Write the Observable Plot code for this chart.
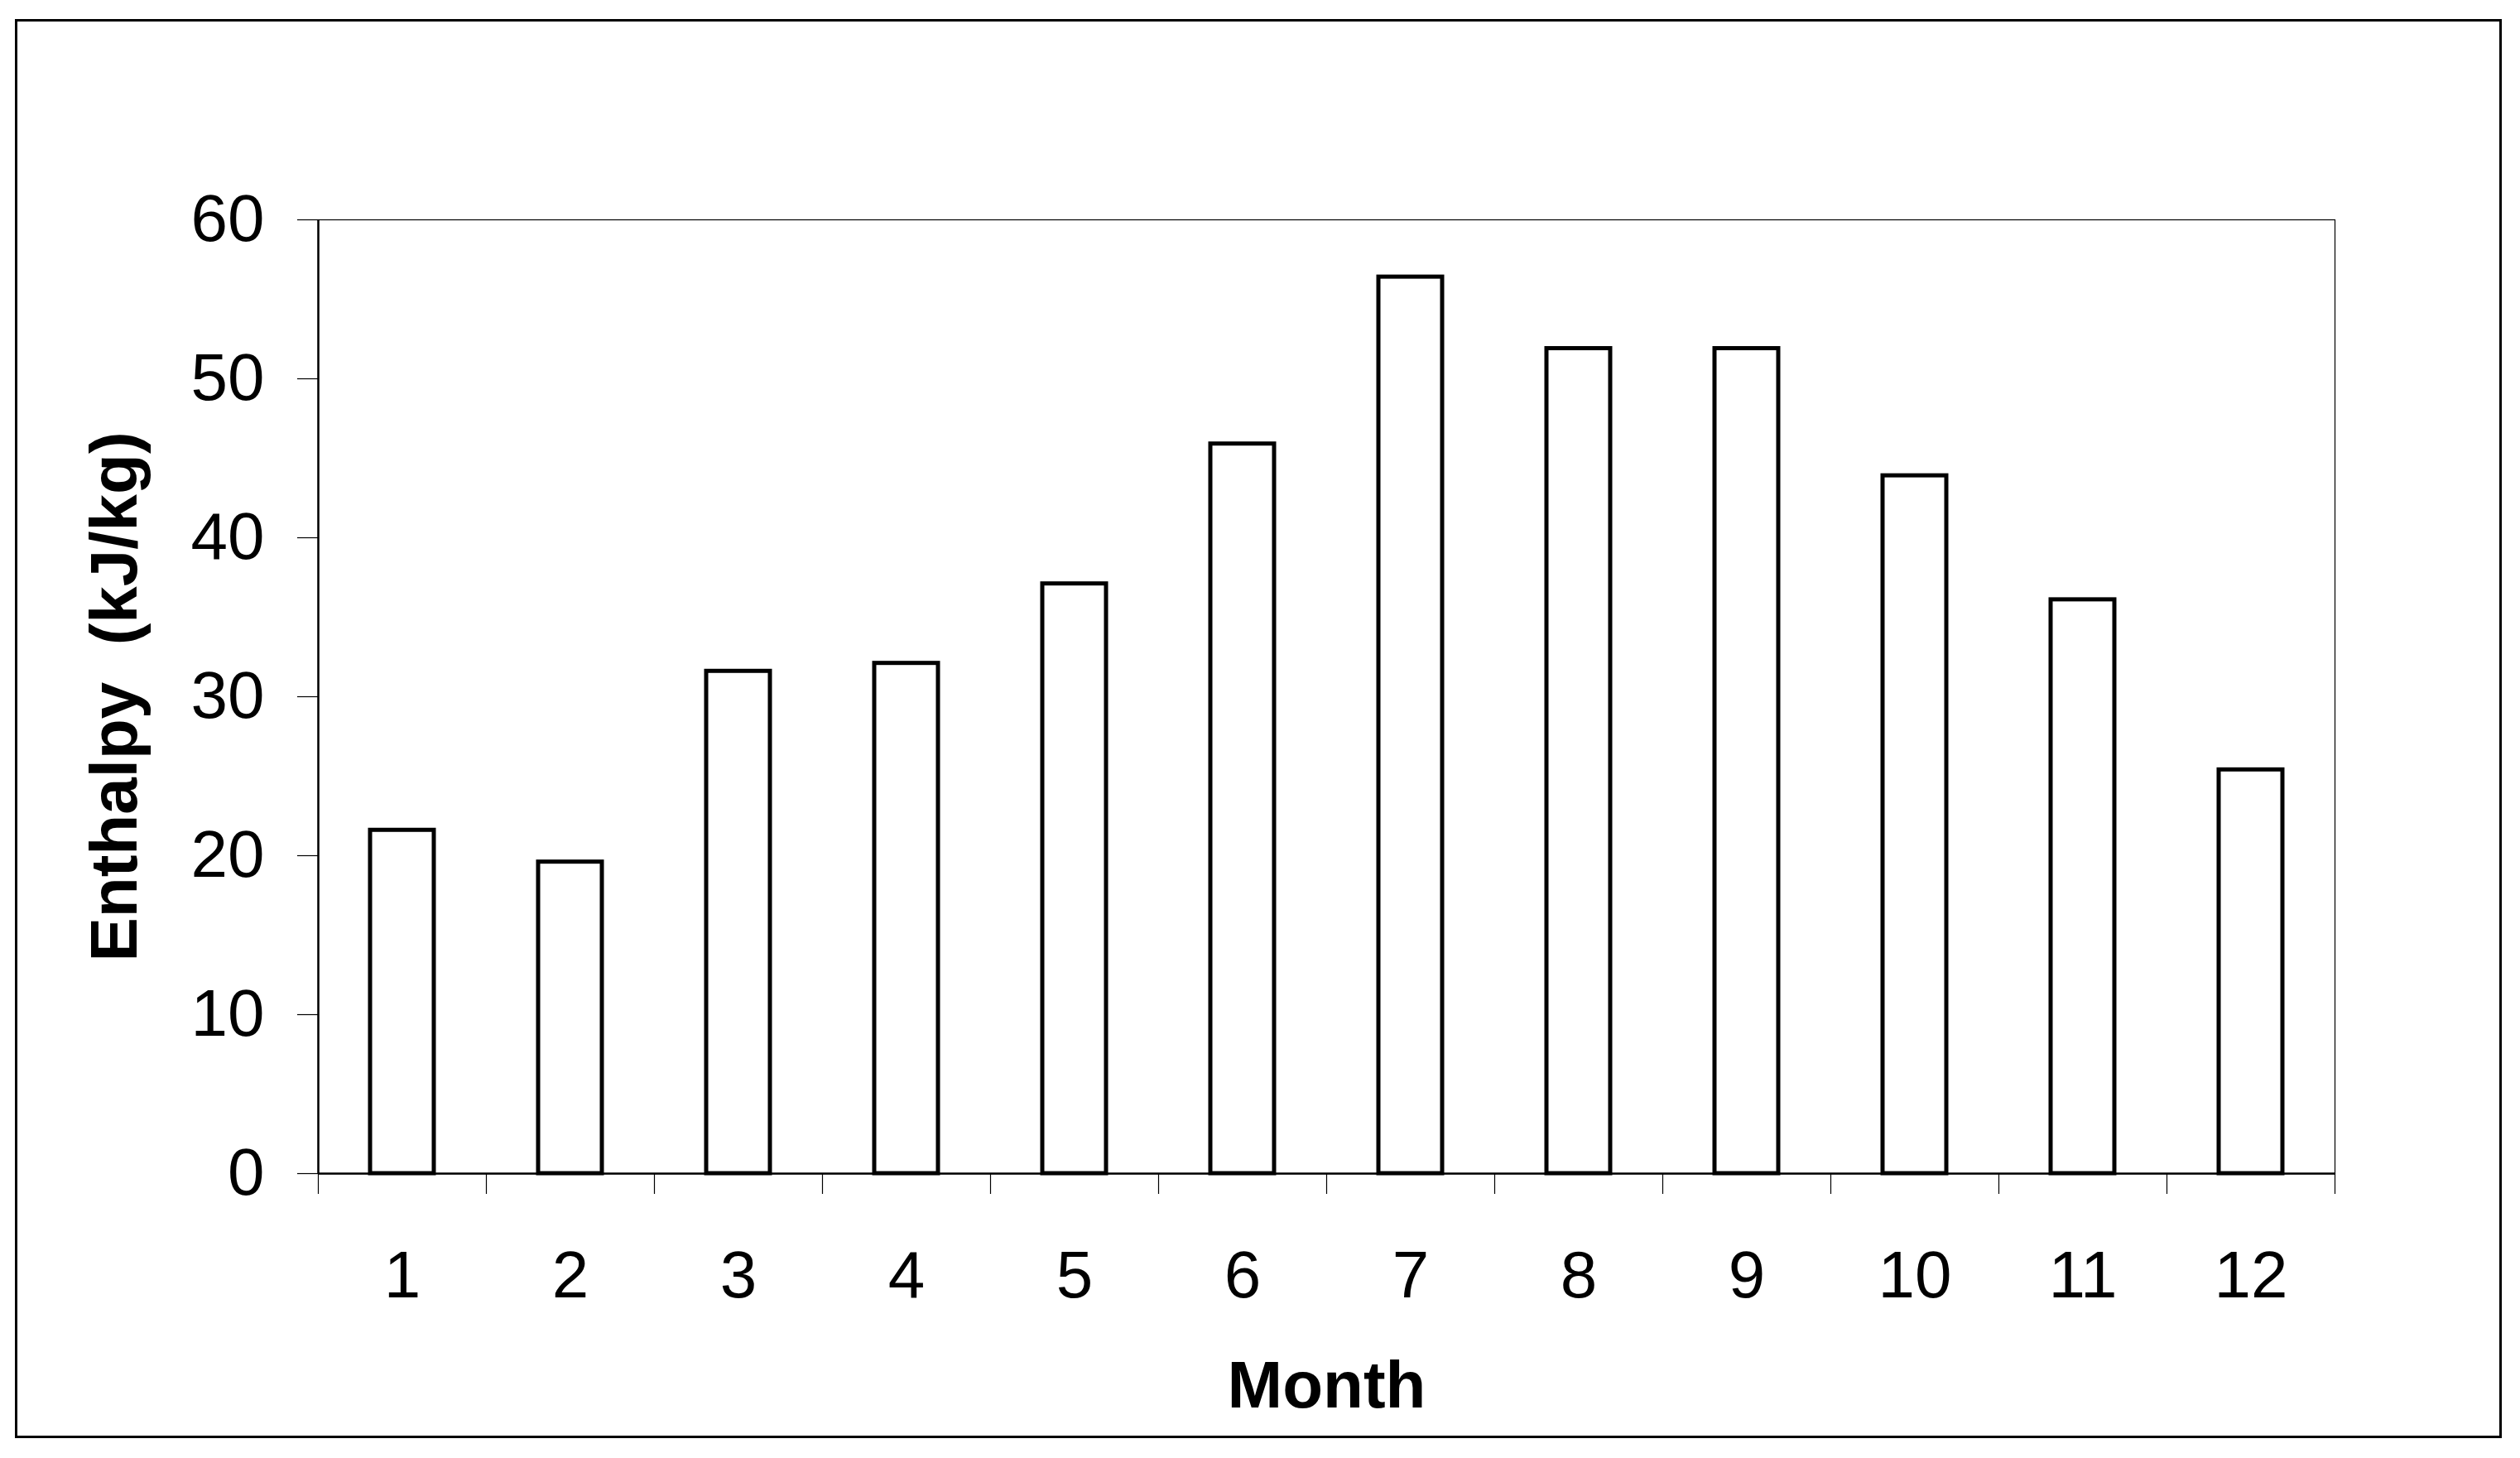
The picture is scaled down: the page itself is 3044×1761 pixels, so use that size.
<!DOCTYPE html>
<html>
<head>
<meta charset="utf-8">
<script src="https://cdn.jsdelivr.net/npm/d3@7"></script>
<script src="https://cdn.jsdelivr.net/npm/@observablehq/plot@0.6"></script>
<style>
  html, body { margin: 0; padding: 0; background: #fff; }
  #wrap { position: relative; width: 3044px; height: 1761px; background: #fff; }
  #border { position: absolute; left: 18px; top: 23px; width: 2998px; height: 1708px; border: 3px solid #000; pointer-events: none; }
  #chart { position: absolute; left: 0; top: 0; }
</style>
</head>
<body>
<div id="wrap">
  <div id="chart"></div>
  <div id="border"></div>
</div>
<script>
const months = [1, 2, 3, 4, 5, 6, 7, 8, 9, 10, 11, 12];
const enthalpy = [21.6, 19.6, 31.6, 32.1, 37.1, 45.9, 56.4, 51.9, 51.9, 43.9, 36.1, 25.4];
const yTicks = [0, 10, 20, 30, 40, 50, 60];
const xTitle = "Month";
const yTitle = "Enthalpy\u00a0\u00a0(kJ/kg)";

const data = months.map((m, i) => ({month: m, value: enthalpy[i]}));
const boundaries = months.map(m => m - 0.5).concat([months[months.length - 1] + 0.5]);

const font = "'Liberation Sans', Arial, Helvetica, sans-serif";

const chart = Plot.plot({
  width: 3044,
  height: 1761,
  marginLeft: 384,
  marginRight: 224,
  marginTop: 265,
  marginBottom: 344,
  style: {fontFamily: font, fontSize: "80px", color: "#000", background: "#fff", overflow: "visible"},
  x: {type: "linear", domain: [0.5, 12.5]},
  y: {domain: [0, 60]},
  marks: [
    Plot.frame({stroke: "#000", strokeWidth: 1.2}),
    Plot.rectY(data, {
      x1: d => d.month - 0.5,
      x2: d => d.month + 0.5,
      y: "value",
      insetLeft: 63,
      insetRight: 63,
      fill: "#fff",
      stroke: "#000",
      strokeWidth: 5
    }),
    Plot.axisX({ticks: boundaries, tickFormat: () => "", tickSize: 25, tickPadding: 0, stroke: "#000", strokeWidth: 1.2}),
    Plot.axisX({ticks: months, tickFormat: d => String(d), tickSize: 0, tickPadding: 93, fontSize: 80, label: null}),
    Plot.axisY({ticks: yTicks, tickSize: 25, tickPadding: 40, fontSize: 80, label: null, stroke: "#000", strokeWidth: 1.2}),
    Plot.ruleX([0.5], {stroke: "#000", strokeWidth: 2.5}),
    Plot.ruleY([0], {stroke: "#000", strokeWidth: 2.5}),
    Plot.text([yTitle], {
      frameAnchor: "left",
      textAnchor: "middle",
      rotate: -90,
      dx: -245,
      fontSize: 80,
      fontWeight: "bold",
      fill: "#000"
    }),
    Plot.text([xTitle], {
      frameAnchor: "bottom",
      lineAnchor: "bottom",
      dy: 282,
      fontSize: 80,
      fontWeight: "bold",
      fill: "#000"
    })
  ]
});
document.getElementById("chart").appendChild(chart);
</script>
</body>
</html>
